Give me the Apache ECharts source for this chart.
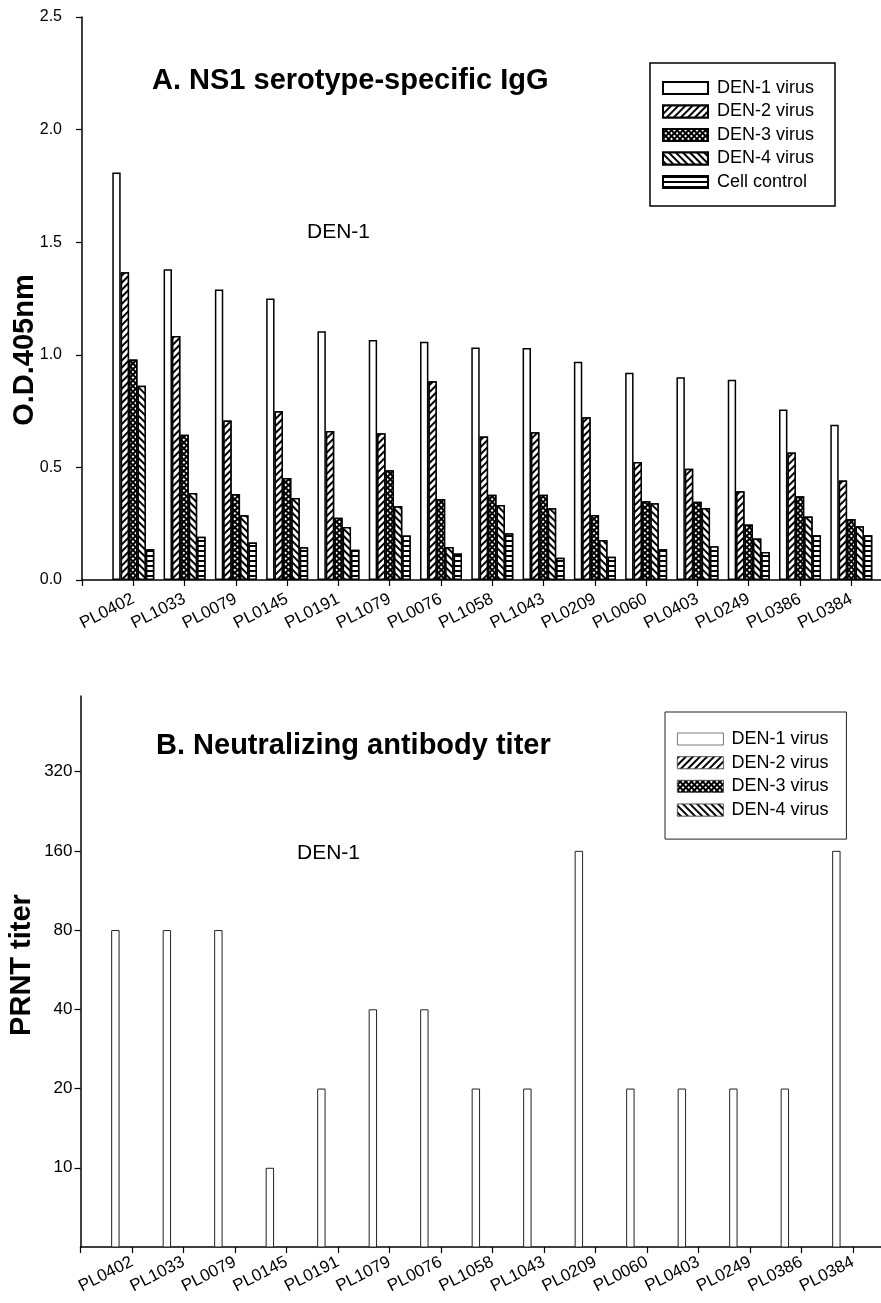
<!DOCTYPE html>
<html><head><meta charset="utf-8">
<script src="https://cdn.jsdelivr.net/npm/echarts@6/dist/echarts.min.js"></script>
<style>html,body{margin:0;padding:0;background:#fff}#c{width:881px;height:1303px}</style>
</head><body><div id="c"></div>
<script>
// ---------- data ----------
const patients = ['PL0402','PL1033','PL0079','PL0145','PL0191','PL1079','PL0076','PL1058','PL1043','PL0209','PL0060','PL0403','PL0249','PL0386','PL0384'];
const seriesNamesA = ['DEN-1 virus','DEN-2 virus','DEN-3 virus','DEN-4 virus','Cell control'];
const seriesNamesB = ['DEN-1 virus','DEN-2 virus','DEN-3 virus','DEN-4 virus'];
const den1OD = [1.81,1.38,1.29,1.25,1.105,1.066,1.058,1.032,1.03,0.969,0.92,0.90,0.889,0.757,0.689];
const den2OD = [1.367,1.084,0.708,0.749,0.662,0.652,0.882,0.637,0.656,0.723,0.524,0.494,0.394,0.566,0.442];
const den3OD = [0.979,0.645,0.382,0.453,0.276,0.487,0.360,0.379,0.379,0.289,0.350,0.348,0.246,0.372,0.271];
const den4OD = [0.863,0.386,0.288,0.364,0.235,0.327,0.147,0.333,0.319,0.178,0.341,0.320,0.184,0.282,0.239];
const cellOD = [0.136,0.192,0.167,0.145,0.134,0.198,0.118,0.208,0.099,0.103,0.136,0.150,0.124,0.199,0.199];
const den1PRNT = [80,80,80,10,20,40,40,20,20,160,20,20,20,20,160];
const den2PRNT = ['-','-','-','-','-','-','-','-','-','-','-','-','-','-','-'];
const den3PRNT = ['-','-','-','-','-','-','-','-','-','-','-','-','-','-','-'];
const den4PRNT = ['-','-','-','-','-','-','-','-','-','-','-','-','-','-','-'];
const odTicks = [0,0.5,1.0,1.5,2.0,2.5];
const prntTicks = [10,20,40,80,160,320];

// ---------- helpers ----------
const FF = '"Liberation Sans", Arial, Helvetica, sans-serif';
const cats = [''].concat(patients, ['']);
const pad = arr => ['-'].concat(arr, ['-']);

const decals = [
  null,
  {symbol:'rect', symbolSize:1, dashArrayX:[1,0], dashArrayY:[2,3], rotation:-Math.PI/4, color:'#000', backgroundColor:'#fff'},
  {symbol:'rect', symbolSize:1, dashArrayX:[2,1.4], dashArrayY:[2,1.4], rotation:Math.PI/4, color:'#fff', backgroundColor:'#000'},
  {symbol:'rect', symbolSize:1, dashArrayX:[1,0], dashArrayY:[2,3], rotation:Math.PI/4, color:'#000', backgroundColor:'#fff'},
  {symbol:'rect', symbolSize:1, dashArrayX:[1,0], dashArrayY:[1.6,3], rotation:0, color:'#000', backgroundColor:'#fff'}
];

const dataA = [den1OD, den2OD, den3OD, den4OD, cellOD];
const dataB = [den1PRNT, den2PRNT, den3PRNT, den4PRNT];

const seriesA = seriesNamesA.map((n,i) => ({
  name:n, type:'bar', xAxisIndex:0, yAxisIndex:0, data:pad(dataA[i]),
  barWidth:8.4, barGap:'0%',
  itemStyle:Object.assign({color:'#fff', borderColor:'#000', borderWidth:1.5}, decals[i] ? {decal:decals[i]} : {})
}));
const seriesB = seriesNamesB.map((n,i) => ({
  name:n, type:'bar', xAxisIndex:1, yAxisIndex:1, data:pad(dataB[i]),
  barWidth:8.4, barGap:'32%',
  itemStyle:Object.assign({color:'#fff', borderColor:'#222', borderWidth:1}, decals[i] ? {decal:decals[i]} : {})
}));

const axisLineStyle = {color:'#000', width:1.5};

const option = {
  animation:false,
  backgroundColor:'#fff',
  textStyle:{fontFamily:FF, color:'#000'},
  grid:[
    {left:82, top:17, width:820.6, height:563, outerBoundsMode:'none', containLabel:false},
    {left:80.5, top:696, width:824, height:551, outerBoundsMode:'none', containLabel:false}
  ],
  xAxis:[
    {gridIndex:0, type:'category', data:cats, boundaryGap:false,
     axisLine:{lineStyle:axisLineStyle}, axisTick:{show:true, interval:0, length:6, lineStyle:{color:'#000', width:1.2}},
     axisLabel:{interval:0, rotate:27, margin:18, fontSize:17, color:'#000', fontFamily:FF}, splitLine:{show:false}},
    {gridIndex:1, type:'category', data:cats, boundaryGap:false,
     axisLine:{lineStyle:axisLineStyle}, axisTick:{show:true, interval:0, length:6, lineStyle:{color:'#000', width:1.2}},
     axisLabel:{interval:0, rotate:27, margin:14, fontSize:17, color:'#000', fontFamily:FF}, splitLine:{show:false}}
  ],
  yAxis:[
    {gridIndex:0, type:'value', min:0, max:2.5, interval:0.5,
     axisLine:{show:true, lineStyle:axisLineStyle}, axisTick:{show:true, length:6, lineStyle:{color:'#000', width:1.2}, customValues:odTicks},
     axisLabel:{customValues:odTicks, formatter:v => Number(v).toFixed(1), margin:20, fontSize:16, color:'#000', fontFamily:FF},
     splitLine:{show:false}},
    {gridIndex:1, type:'log', logBase:2, min:5, max:620,
     axisLine:{show:true, lineStyle:axisLineStyle}, axisTick:{show:true, length:6, lineStyle:{color:'#000', width:1.2}, customValues:prntTicks},
     axisLabel:{customValues:prntTicks, formatter:v => String(Math.round(v)), margin:8, fontSize:17, color:'#000', fontFamily:FF},
     splitLine:{show:false}, minorTick:{show:false}, minorSplitLine:{show:false}}
  ],
  legend:[
    {left:650, top:63, orient:'vertical', data:seriesNamesA, icon:'rect', itemWidth:45, itemHeight:12, itemGap:5.5,
     padding:[16,21,15,12], borderColor:'#000', borderWidth:1.5, selectedMode:false,
     textStyle:{fontSize:18, color:'#000', fontFamily:FF, padding:[0,0,0,4]}},
    {left:665, top:712, orient:'vertical', data:seriesNamesB, icon:'rect', itemWidth:46, itemHeight:12, itemGap:5.7,
     padding:[18,18,20,12], borderColor:'#222', borderWidth:1, selectedMode:false,
     itemStyle:{borderWidth:0.8, borderColor:'#555'},
     textStyle:{fontSize:18, color:'#000', fontFamily:FF, padding:[0,0,0,3]}}
  ],
  graphic:{elements:[
    {type:'text', x:152, y:81, style:{text:'A. NS1 serotype-specific IgG', font:'bold 29px '+FF, fill:'#000', align:'left', verticalAlign:'middle', textAlign:'left', textVerticalAlign:'middle'}},
    {type:'text', x:156, y:746, style:{text:'B. Neutralizing antibody titer', font:'bold 29px '+FF, fill:'#000', align:'left', verticalAlign:'middle', textAlign:'left', textVerticalAlign:'middle'}},
    {type:'text', x:307, y:232, style:{text:'DEN-1', font:'21px '+FF, fill:'#000', align:'left', verticalAlign:'middle', textAlign:'left', textVerticalAlign:'middle'}},
    {type:'text', x:297, y:853, style:{text:'DEN-1', font:'21px '+FF, fill:'#000', align:'left', verticalAlign:'middle', textAlign:'left', textVerticalAlign:'middle'}},
    {type:'text', x:25, y:350, rotation:Math.PI/2, style:{text:'O.D.405nm', font:'bold 29px '+FF, fill:'#000', align:'center', verticalAlign:'middle', textAlign:'center', textVerticalAlign:'middle'}},
    {type:'text', x:22, y:965, rotation:Math.PI/2, style:{text:'PRNT titer', font:'bold 29px '+FF, fill:'#000', align:'center', verticalAlign:'middle', textAlign:'center', textVerticalAlign:'middle'}}
  ]},
  series: seriesA.concat(seriesB)
};

const chart = echarts.init(document.getElementById('c'), null, {renderer:'canvas', width:881, height:1303});
chart.setOption(option);
</script>
</body></html>
